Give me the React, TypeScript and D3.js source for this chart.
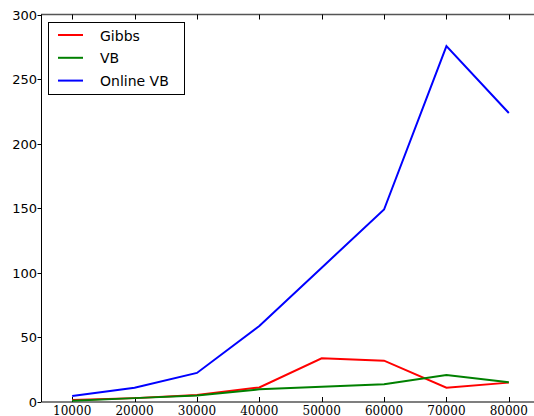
import { useEffect, useRef } from "react";
import * as d3 from "d3";

const xValues = [10000, 20000, 30000, 40000, 50000, 60000, 70000, 80000];
const gibbs = [1.5, 3, 5.4, 11.3, 33.8, 32, 11, 15];
const vb = [1, 3, 5, 9.8, 11.9, 13.7, 20.9, 15.2];
const onlineVb = [4.6, 11, 22.5, 58.8, 104, 149, 275.5, 223.7];
const yTicks = [0, 50, 100, 150, 200, 250, 300];
const seriesNames = ["Gibbs", "VB", "Online VB"];
const seriesColors = ["#ff0000", "#008000", "#0000ff"];

export default function App() {
  const svgRef = useRef<SVGSVGElement>(null);
  const width = 534;
  const height = 416;

  useEffect(() => {
    if (!svgRef.current) return;
    const svg = d3.select(svgRef.current);
    svg.selectAll("*").remove();

    const left = 41;
    const top = 14.5;
    const bottom = 402;

    const x = d3.scaleLinear().domain([5000, 85000]).range([left, 540]);
    const y = d3.scaleLinear().domain([0, 300]).range([bottom, top]);

    // frame
    svg.append("line")
      .attr("x1", left).attr("x2", width)
      .attr("y1", top).attr("y2", top)
      .attr("stroke", "#555").attr("stroke-width", 1.5);
    svg.append("line")
      .attr("x1", left).attr("x2", width)
      .attr("y1", bottom).attr("y2", bottom)
      .attr("stroke", "#555").attr("stroke-width", 1.5);
    svg.append("line")
      .attr("x1", left + 0.5).attr("x2", left + 0.5)
      .attr("y1", top).attr("y2", bottom)
      .attr("stroke", "#000").attr("stroke-width", 1);

    // x ticks (inward, top & bottom)
    xValues.forEach((v) => {
      const px = Math.round(x(v)) + 0.5;
      svg.append("line")
        .attr("x1", px).attr("x2", px)
        .attr("y1", bottom).attr("y2", bottom - 5)
        .attr("stroke", "#000");
      svg.append("line")
        .attr("x1", px).attr("x2", px)
        .attr("y1", top).attr("y2", top + 5)
        .attr("stroke", "#000");
      svg.append("text")
        .attr("x", x(v))
        .attr("y", bottom + 12.5)
        .attr("text-anchor", "middle")
        .attr("font-family", "'DejaVu Serif', serif")
        .attr("font-size", 12)
        .attr("fill", "#000")
        .text(String(v));
    });

    // y ticks (outward, left)
    yTicks.forEach((v) => {
      const py = Math.round(y(v)) + 0.5;
      svg.append("line")
        .attr("x1", left - 3.5).attr("x2", left)
        .attr("y1", py).attr("y2", py)
        .attr("stroke", "#000");
      svg.append("text")
        .attr("x", left - 4)
        .attr("y", y(v) + 5)
        .attr("text-anchor", "end")
        .attr("font-family", "'DejaVu Sans', sans-serif")
        .attr("font-size", 13)
        .attr("fill", "#000")
        .text(String(v));
    });

    const line = d3.line<number>()
      .x((_, i) => x(xValues[i]))
      .y((d) => y(d));

    [gibbs, vb, onlineVb].forEach((s, i) => {
      svg.append("path")
        .datum(s)
        .attr("fill", "none")
        .attr("stroke", seriesColors[i])
        .attr("stroke-width", 2)
        .attr("stroke-linejoin", "miter")
        .attr("d", line);
    });

    // legend
    const lg = svg.append("g");
    lg.append("rect")
      .attr("x", 48.5).attr("y", 22.5)
      .attr("width", 136).attr("height", 72)
      .attr("fill", "#fff").attr("stroke", "#000").attr("stroke-width", 1);
    seriesNames.forEach((name, i) => {
      const ly = 35 + i * 22.8;
      lg.append("line")
        .attr("x1", 58).attr("x2", 83)
        .attr("y1", ly).attr("y2", ly)
        .attr("stroke", seriesColors[i]).attr("stroke-width", 2);
      lg.append("text")
        .attr("x", 100)
        .attr("y", ly + 5.5)
        .attr("font-family", "'DejaVu Sans', sans-serif")
        .attr("font-size", 14)
        .attr("fill", "#000")
        .text(name);
    });
  }, []);

  return (
    <svg
      ref={svgRef}
      width={width}
      height={height}
      style={{ position: "absolute", left: 0, top: 0, background: "#fff" }}
    />
  );
}
